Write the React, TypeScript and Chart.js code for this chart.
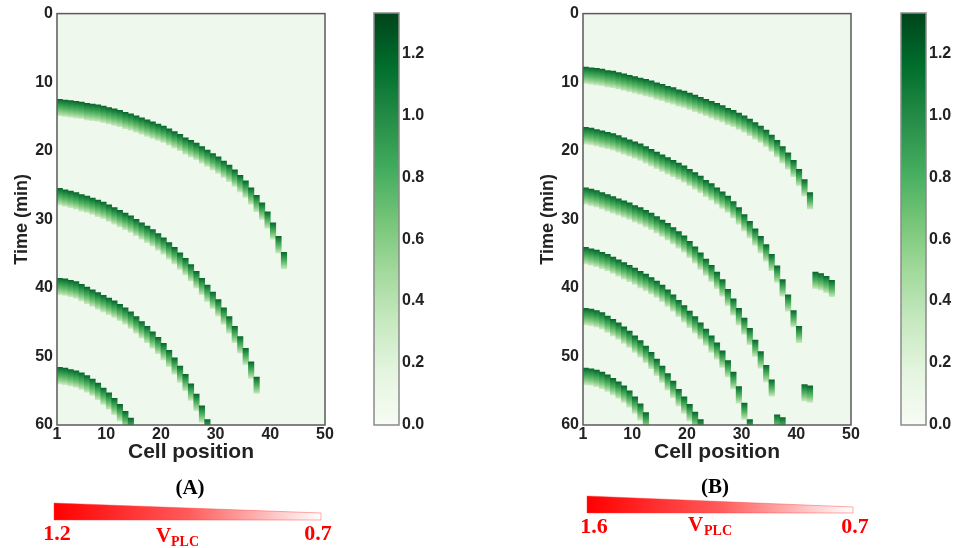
import React, { useEffect, useRef } from "react";
import { Chart, registerables } from "chart.js";

Chart.register(...registerables);

// ---------- axis ticks ----------
const cellTicks = [1, 10, 20, 30, 40, 50];
const timeTicks = [0, 10, 20, 30, 40, 50, 60];
const colorbarTicks = [0, 0.2, 0.4, 0.6, 0.8, 1.0, 1.2];
const colorbarMax = 1.33;
const pulseDuration = 2.4; // min, length of a Ca2+ pulse in one cell

// ---------- Panel A: onset time (min) per cell, starting at cell 1 ----------
const A_wave1 = [12.5, 12.6, 12.7, 12.8, 12.9, 13.1, 13.2, 13.3, 13.5, 13.7, 13.9, 14.1, 14.4, 14.6, 14.9, 15.2, 15.5, 15.8, 16.1, 16.4, 16.8, 17.2, 17.6, 18.1, 18.5, 18.9, 19.4, 19.9, 20.4, 20.9, 21.5, 22.1, 22.8, 23.6, 24.4, 25.4, 26.5, 27.6, 28.9, 30.5, 32.5, 34.8];
const A_wave2 = [25.5, 25.7, 25.9, 26.1, 26.4, 26.6, 26.9, 27.2, 27.5, 27.9, 28.3, 28.7, 29.1, 29.5, 30.0, 30.5, 31.0, 31.5, 32.1, 32.7, 33.4, 34.1, 34.9, 35.7, 36.6, 37.6, 38.6, 39.6, 40.6, 41.7, 42.9, 44.2, 45.6, 47.1, 48.8, 50.8, 53.0];
const A_wave3 = [38.6, 38.7, 38.9, 39.1, 39.5, 39.9, 40.3, 40.7, 41.1, 41.5, 41.9, 42.4, 42.9, 43.5, 44.2, 44.9, 45.6, 46.4, 47.2, 48.1, 49.1, 50.2, 51.4, 52.6, 54.0, 55.5, 57.2, 59.2];
const A_wave4 = [51.6, 51.7, 51.9, 52.1, 52.4, 52.8, 53.3, 53.9, 54.6, 55.3, 56.1, 57.0, 58.0, 59.0];

// ---------- Panel B ----------
const B_wave1 = [7.8, 7.9, 8.0, 8.1, 8.3, 8.4, 8.6, 8.8, 9.0, 9.2, 9.4, 9.6, 9.8, 10.1, 10.3, 10.6, 10.8, 11.1, 11.3, 11.6, 11.9, 12.2, 12.5, 12.8, 13.1, 13.4, 13.8, 14.1, 14.5, 14.9, 15.4, 15.9, 16.4, 17.0, 17.7, 18.5, 19.4, 20.3, 21.4, 22.7, 24.2, 26.1];
const B_wave2 = [16.6, 16.7, 16.9, 17.1, 17.3, 17.5, 17.8, 18.1, 18.4, 18.7, 19.0, 19.4, 19.8, 20.2, 20.6, 21.0, 21.4, 21.8, 22.2, 22.7, 23.2, 23.7, 24.3, 24.8, 25.4, 26.0, 26.6, 27.4, 28.3, 29.3, 30.3, 31.4, 32.5, 33.7, 35.1, 36.8, 38.8, 41.0, 43.3, 45.6];
const B_wave3 = [25.4, 25.6, 25.8, 26.1, 26.4, 26.7, 27.0, 27.3, 27.6, 28.0, 28.3, 28.7, 29.1, 29.6, 30.1, 30.6, 31.2, 31.8, 32.4, 33.2, 34.0, 34.9, 35.8, 36.7, 37.7, 38.8, 40.2, 41.6, 43.0, 44.4, 45.9, 47.6, 49.3, 51.3, 53.4];
const B_wave4 = [34.1, 34.3, 34.5, 34.8, 35.1, 35.5, 35.9, 36.3, 36.7, 37.1, 37.6, 38.0, 38.5, 39.0, 39.6, 40.3, 41.0, 41.8, 42.6, 43.4, 44.2, 45.1, 46.0, 47.0, 48.0, 49.2, 50.6, 52.3, 54.4, 56.8, 59.2];
const B_wave5 = [43.0, 43.1, 43.3, 43.6, 44.1, 44.6, 45.1, 45.7, 46.3, 47.0, 47.7, 48.5, 49.4, 50.4, 51.4, 52.5, 53.6, 54.8, 55.9, 57.0, 58.1, 59.2];
const B_wave6 = [51.7, 51.8, 52.0, 52.3, 52.7, 53.2, 53.7, 54.3, 55.0, 55.9, 56.9, 58.2];
const B_frag1Start = 43;
const B_frag1 = [37.7, 37.9, 38.3, 38.9];
const B_frag2Start = 41;
const B_frag2 = [54.1, 54.3];
const B_frag3Start = 36;
const B_frag3 = [58.5, 58.9];

const panelA = [
  { start: 1, times: A_wave1 },
  { start: 1, times: A_wave2 },
  { start: 1, times: A_wave3 },
  { start: 1, times: A_wave4 },
];
const panelB = [
  { start: 1, times: B_wave1 },
  { start: 1, times: B_wave2 },
  { start: 1, times: B_wave3 },
  { start: 1, times: B_wave4 },
  { start: 1, times: B_wave5 },
  { start: 1, times: B_wave6 },
  { start: B_frag1Start, times: B_frag1 },
  { start: B_frag2Start, times: B_frag2 },
  { start: B_frag3Start, times: B_frag3 },
];

// ---------- styles ----------
const SANS = "'Liberation Sans', Arial, sans-serif";
const SERIF = "'Liberation Serif', 'Times New Roman', serif";
const TEXT = "#222222";
const BG = "#eff8ec";
const GREENS = ["#f7fcf5", "#e5f5e0", "#c7e9c0", "#a1d99b", "#74c476", "#41ab5d", "#238b45", "#006d2c", "#00441b"];
const PULSE_STOPS: [number, string][] = [
  [0, "#0a672c"],
  [0.25, "#258f46"],
  [0.55, "#58b565"],
  [0.8, "#95d18f"],
  [1, "#c8e8c1"],
];

function buildSegments(waves: { start: number; times: number[] }[]) {
  const out: { x: number; y: [number, number] }[] = [];
  for (const w of waves) {
    w.times.forEach((t, i) => out.push({ x: w.start + i + 0.5, y: [t, t + pulseDuration] }));
  }
  return out;
}

const framePlugin = {
  id: "frame",
  beforeDatasetsDraw(chart: any, _args: any, opts: any) {
    if (!opts || !opts.bg) return;
    const { ctx, chartArea } = chart;
    ctx.save();
    ctx.fillStyle = opts.bg;
    ctx.fillRect(chartArea.left, chartArea.top, chartArea.width, chartArea.height);
    ctx.restore();
  },
  afterDatasetsDraw(chart: any, _args: any, opts: any) {
    if (!opts || !opts.color) return;
    const { ctx, chartArea } = chart;
    ctx.save();
    ctx.strokeStyle = opts.color;
    ctx.lineWidth = opts.width || 1;
    ctx.strokeRect(chartArea.left, chartArea.top, chartArea.width, chartArea.height);
    ctx.restore();
  },
};

function pulseColor(ctx: any) {
  const chart = ctx.chart;
  const raw = ctx.raw;
  if (!raw || !chart.chartArea || !chart.scales.y) return "#41ab5d";
  const ys = chart.scales.y;
  const y0 = ys.getPixelForValue(raw.y[0]);
  const y1 = ys.getPixelForValue(raw.y[1]);
  const g = chart.ctx.createLinearGradient(0, y0, 0, y1);
  PULSE_STOPS.forEach(([o, c]) => g.addColorStop(o, c));
  return g;
}

function HeatPanel({ waves, left }: { waves: { start: number; times: number[] }[]; left: number }) {
  const ref = useRef<HTMLCanvasElement | null>(null);
  useEffect(() => {
    if (!ref.current) return;
    const tickFont = { family: SANS, size: 16, weight: "bold" as const };
    const chart = new Chart(ref.current, {
      type: "bar",
      data: {
        datasets: [
          {
            data: buildSegments(waves) as any,
            backgroundColor: pulseColor as any,
            borderWidth: 0,
            barPercentage: 1,
            categoryPercentage: 1,
            grouped: false,
          } as any,
        ],
      },
      options: {
        animation: false,
        responsive: false,
        maintainAspectRatio: false,
        events: [],
        layout: { padding: { top: 13, right: 20, left: 0, bottom: 0 } },
        plugins: {
          legend: { display: false },
          tooltip: { enabled: false },
          frame: { bg: BG, color: "#5a5a5a", width: 1.5 },
        } as any,
        scales: {
          x: {
            type: "linear",
            min: 1,
            max: 50,
            offset: false,
            afterBuildTicks: (s: any) => {
              s.ticks = cellTicks.map((v) => ({ value: v }));
            },
            afterFit: (s: any) => {
              s.height = 40;
            },
            grid: { display: false, drawTicks: false },
            border: { display: false },
            ticks: {
              font: tickFont,
              color: TEXT,
              padding: 0,
              maxRotation: 0,
              autoSkip: false,
              callback: (v: any) => String(v),
            },
            title: {
              display: true,
              text: "Cell position",
              font: { family: SANS, size: 21, weight: "bold" },
              color: TEXT,
              padding: { top: 0, bottom: 0 },
            },
          },
          y: {
            type: "linear",
            min: 0,
            max: 60,
            reverse: true,
            afterBuildTicks: (s: any) => {
              s.ticks = timeTicks.map((v) => ({ value: v }));
            },
            afterFit: (s: any) => {
              s.width = 57;
            },
            grid: { display: false, drawTicks: false },
            border: { display: false },
            ticks: {
              font: tickFont,
              color: TEXT,
              padding: 4,
              autoSkip: false,
              callback: (v: any) => String(v),
            },
            title: {
              display: true,
              text: "Time (min)",
              font: { family: SANS, size: 18, weight: "bold" },
              color: TEXT,
              padding: { top: 11, bottom: 0 },
            },
          },
        },
      },
      plugins: [framePlugin as any],
    });
    return () => chart.destroy();
  }, [waves]);
  return (
    <canvas
      ref={ref}
      width={345}
      height={465}
      style={{ position: "absolute", left, top: 0, width: 345, height: 465 }}
    />
  );
}

function colorbarFill(ctx: any) {
  const chart = ctx.chart;
  const area = chart.chartArea;
  if (!area) return GREENS[4];
  const g = chart.ctx.createLinearGradient(0, area.bottom, 0, area.top);
  GREENS.forEach((c, i) => g.addColorStop(i / (GREENS.length - 1), c));
  return g;
}

function Colorbar({ left }: { left: number }) {
  const ref = useRef<HTMLCanvasElement | null>(null);
  useEffect(() => {
    if (!ref.current) return;
    const chart = new Chart(ref.current, {
      type: "bar",
      data: {
        labels: [""],
        datasets: [
          {
            data: [[0, colorbarMax]] as any,
            backgroundColor: colorbarFill as any,
            borderWidth: 0,
            barPercentage: 1,
            categoryPercentage: 1,
          },
        ],
      },
      options: {
        animation: false,
        responsive: false,
        maintainAspectRatio: false,
        events: [],
        layout: { padding: { top: 13, left: 14, right: 0, bottom: 15 } },
        plugins: {
          legend: { display: false },
          tooltip: { enabled: false },
          frame: { color: "#8a8a8a", width: 1.5 },
        } as any,
        scales: {
          x: { display: false },
          y: {
            position: "right",
            min: 0,
            max: colorbarMax,
            afterBuildTicks: (s: any) => {
              s.ticks = colorbarTicks.map((v) => ({ value: v }));
            },
            afterFit: (s: any) => {
              s.width = 32;
            },
            grid: { display: false, drawTicks: false },
            border: { display: false },
            ticks: {
              font: { family: SANS, size: 16, weight: "bold" },
              color: TEXT,
              padding: 3,
              autoSkip: false,
              callback: (v: any) => Number(v).toFixed(1),
            },
          },
        },
      },
      plugins: [framePlugin as any],
    });
    return () => chart.destroy();
  }, []);
  return (
    <canvas
      ref={ref}
      width={71}
      height={440}
      style={{ position: "absolute", left, top: 0, width: 71, height: 440 }}
    />
  );
}

function Annotations() {
  const red = "#ff0000";
  const serifBold = { fontFamily: SERIF, fontWeight: "bold" as const };
  return (
    <svg
      width={956}
      height={548}
      style={{ position: "absolute", left: 0, top: 0, pointerEvents: "none" }}
    >
      <defs>
        <linearGradient id="vplcGrad" x1="0" x2="1" y1="0" y2="0">
          <stop offset="0" stopColor="#ff0000" />
          <stop offset="0.5" stopColor="#ff5a5a" />
          <stop offset="1" stopColor="#ffffff" />
        </linearGradient>
      </defs>
      {/* Panel A */}
      <text x={190} y={494} textAnchor="middle" fontSize={21} fill="#000" {...serifBold}>(A)</text>
      <polygon points="54,503 321,513 321,520 54,520" fill="url(#vplcGrad)" stroke="rgba(255,60,60,0.55)" strokeWidth={0.8} />
      <text x={57} y={540} textAnchor="middle" fontSize={22} fill={red} {...serifBold}>1.2</text>
      <text x={318} y={540} textAnchor="middle" fontSize={22} fill={red} {...serifBold}>0.7</text>
      <text x={156} y={542} fontSize={21} fill={red} {...serifBold}>V</text>
      <text x={171} y={546} fontSize={14} fill={red} {...serifBold}>PLC</text>
      {/* Panel B */}
      <text x={715} y={493} textAnchor="middle" fontSize={21} fill="#000" {...serifBold}>(B)</text>
      <polygon points="587,496 853,507 853,513 587,513" fill="url(#vplcGrad)" stroke="rgba(255,60,60,0.55)" strokeWidth={0.8} />
      <text x={594} y={533} textAnchor="middle" fontSize={22} fill={red} {...serifBold}>1.6</text>
      <text x={855} y={533} textAnchor="middle" fontSize={22} fill={red} {...serifBold}>0.7</text>
      <text x={688} y={531} fontSize={21} fill={red} {...serifBold}>V</text>
      <text x={704} y={535} fontSize={14} fill={red} {...serifBold}>PLC</text>
    </svg>
  );
}

export default function App() {
  return (
    <div
      style={{
        position: "fixed",
        left: 0,
        top: 0,
        width: 956,
        height: 548,
        background: "#ffffff",
        overflow: "hidden",
      }}
    >
      <HeatPanel waves={panelA} left={0} />
      <Colorbar left={360} />
      <HeatPanel waves={panelB} left={526} />
      <Colorbar left={887} />
      <Annotations />
    </div>
  );
}
